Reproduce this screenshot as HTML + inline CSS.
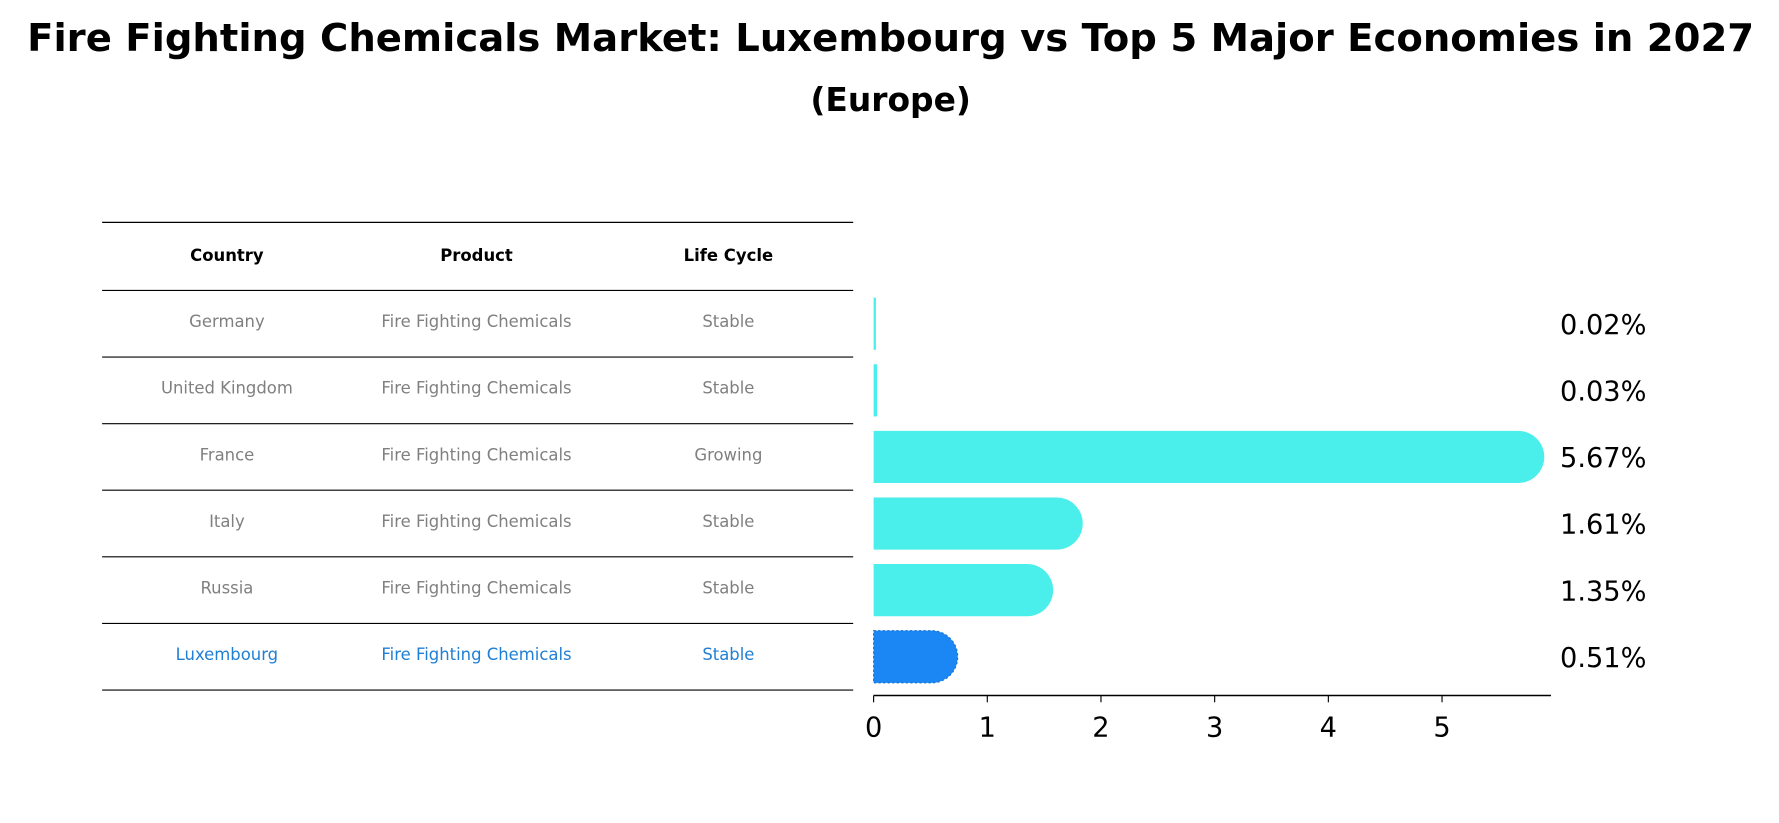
<!DOCTYPE html>
<html><head><meta charset="utf-8"><style>
html,body{margin:0;padding:0;background:#fff;}
svg{display:block;font-family:"DejaVu Sans","Liberation Sans",sans-serif;}
</style></head><body>
<svg id="chart" width="1779" height="823" viewBox="0 0 1568 725.4" preserveAspectRatio="none" xmlns="http://www.w3.org/2000/svg">
<text x="785" y="45" text-anchor="middle" font-size="34" font-weight="bold">Fire Fighting Chemicals Market: Luxembourg vs Top 5 Major Economies in 2027</text>
<text x="785" y="98" text-anchor="middle" font-size="29" font-weight="bold">(Europe)</text>
<g id="table"></g>
<g id="bars"></g>
<g id="axis"></g>
</svg>
<script>
const countries = ["Germany","United Kingdom","France","Italy","Russia","Luxembourg"];
const products = ["Fire Fighting Chemicals","Fire Fighting Chemicals","Fire Fighting Chemicals","Fire Fighting Chemicals","Fire Fighting Chemicals","Fire Fighting Chemicals"];
const lifeCycles = ["Stable","Stable","Growing","Stable","Stable","Stable"];
const values = [0.02,0.03,5.67,1.61,1.35,0.51];
const valueLabels = ["0.02%","0.03%","5.67%","1.61%","1.35%","0.51%"];
const xTicks = [0,1,2,3,4,5];

const NS="http://www.w3.org/2000/svg";
function mk(tag,attrs,parent,text){const e=document.createElementNS(NS,tag);for(const k in attrs)e.setAttribute(k,attrs[k]);if(text!==undefined)e.textContent=text;parent.appendChild(e);return e;}
const x0=770, unit=100.2;
function xs(v){return x0+v*unit;}
const rowTop=256, rowH=58.7;
function yc(i){return rowTop+rowH*(i+0.5);}

const table=document.getElementById('table');
const colX=[200,420,642];
const hdr=["Country","Product","Life Cycle"];
hdr.forEach((h,j)=>{const t=mk('text',{x:colX[j],y:230,'text-anchor':'middle','font-size':14.5,'font-weight':'bold'},table,h);

});
for(let i=0;i<=countries.length+1;i++){
  const y = i===0?196:rowTop+rowH*(i-1);
  const l=mk('line',{x1:90,x2:752,y1:y,y2:y,stroke:'#000','stroke-width':1},table);
  
  
}
countries.forEach((c,i)=>{
  const col = i===countries.length-1?'#1f7fd4':'#808080';
  [c,products[i],lifeCycles[i]].forEach((v,j)=>{
    const t=mk('text',{x:colX[j],y:yc(i)+3,'text-anchor':'middle','font-size':14.5,fill:col},table,v);
    
    
  });
});

const bars=document.getElementById('bars');
const bh=46, r=23;
values.forEach((v,i)=>{
  const lux=i===values.length-1;
  const col=lux?'#1a87f5':'#4aeeea';
  const xe=xs(v), yt=yc(i)-bh/2;
  let d;
  const w=Math.max(v*unit,1.5);
  if(v*unit<r){ d=`M${x0},${yt} h${w} v${bh} h${-w} Z`; }
  else d=`M${x0},${yt} H${xe} A${r},${r} 0 0 1 ${xe},${yt+bh} H${x0} Z`;
  const p=mk('path',{d:d,fill:col},bars);
  if(lux){p.setAttribute('stroke','#1570d0');p.setAttribute('stroke-dasharray','2,2');p.setAttribute('stroke-width','1');}
  
  
  const t=mk('text',{x:1375,y:yc(i)+9,'font-size':24},bars,valueLabels[i]);
  
  
});

const axis=document.getElementById('axis');
const al=mk('line',{x1:x0,x2:1367,y1:613,y2:613,stroke:'#000','stroke-width':1.3},axis);


xTicks.forEach(v=>{
  const tl=mk('line',{x1:xs(v),x2:xs(v),y1:613,y2:619,stroke:'#000','stroke-width':1},axis);
  
  
  const t=mk('text',{x:xs(v),y:649,'text-anchor':'middle','font-size':24},axis,String(v));
  
  
});
</script>
</body></html>
